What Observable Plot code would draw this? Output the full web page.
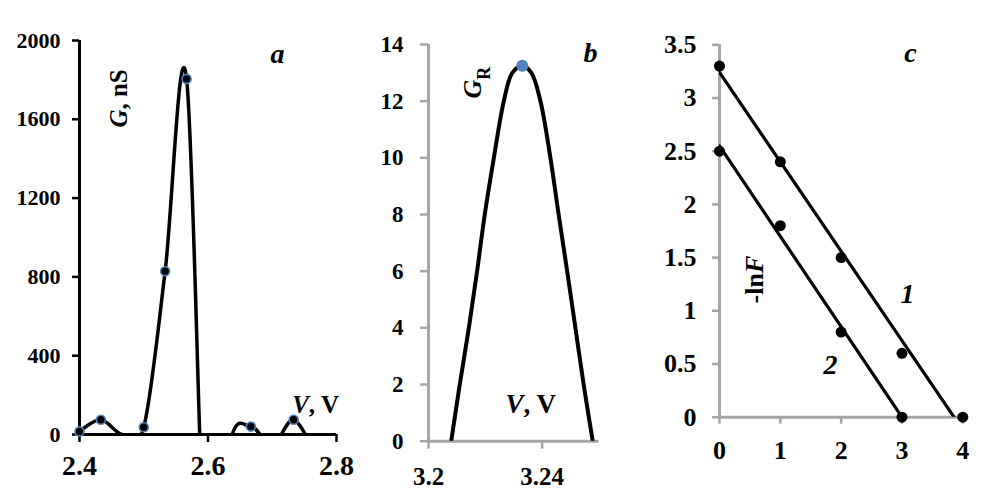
<!DOCTYPE html>
<html><head><meta charset="utf-8">
<script src="https://cdn.jsdelivr.net/npm/d3@7"></script>
<script src="https://cdn.jsdelivr.net/npm/@observablehq/plot@0.6"></script>
<style>
html,body{margin:0;padding:0;background:#fff;}
#wrap{position:relative;width:1000px;height:501px;overflow:hidden;background:#fff;}
#wrap svg{position:absolute;left:0;top:0;}
</style></head><body><div id="wrap"></div>
<script>
// ---- Panel a: G (nS) vs V (V); unmarked values lie below the axis and are clipped
const aV = [2.4, 2.4333, 2.4667, 2.5, 2.5333, 2.5667, 2.6, 2.6333, 2.6667, 2.7, 2.7333, 2.7667];
const aG = [15, 75, 0, 37, 829, 1805, -1000, -55, 40, -55, 75, -100];
const aXTicks = [2.4, 2.6, 2.8];
const aYTicks = [0, 400, 800, 1200, 1600, 2000];
// ---- Panel b: G_R vs V
const bV = [3.2080, 3.2110, 3.2142, 3.2171, 3.2198, 3.2230, 3.2265, 3.2295, 3.2330, 3.2362, 3.2394, 3.2429, 3.2458, 3.2488, 3.2517, 3.2546, 3.2578];
const bG = [0, 2, 4, 6, 8, 10, 12, 13, 13.25, 13, 12, 10, 8, 6, 4, 2, 0];
const bXTicks = [3.2, 3.24];
const bYTicks = [0, 2, 4, 6, 8, 10, 12, 14];
// ---- Panel c: -lnF, two series with linear fits
const c1X = [0, 1, 2, 3, 4];
const c1Y = [3.3, 2.4, 1.5, 0.6, 0];
const c2X = [0, 1, 2, 3];
const c2Y = [2.5, 1.8, 0.8, 0];
const cXTicks = [0, 1, 2, 3, 4];
const cYTicks = [0, 0.5, 1, 1.5, 2, 2.5, 3, 3.5];

const FONT = "'Liberation Serif', 'Times New Roman', serif";
const GRAY = "#a6a6a6";
const BLUE = "#4f81bd";
const base = {
  width: 1000, height: 501,
  style: {fontFamily: FONT, fontWeight: "bold", background: "transparent", color: "black", overflow: "visible"}
};
const wrap = document.getElementById("wrap");
const plain = d => String(d);

function rich(svg, txt, html) {
  svg.querySelectorAll("text").forEach(t => {
    if (t.textContent === txt) t.innerHTML = html;
  });
}

// Panel a
const idxA = d3.range(aV.length);
const plotA = Plot.plot({
  ...base,
  marginLeft: 79, marginRight: 664, marginTop: 40, marginBottom: 67,
  x: {domain: [2.4, 2.8]},
  y: {domain: [0, 2000]},
  marks: [
    Plot.axisX(aXTicks, {tickSize: 8, tickPadding: 13, strokeWidth: 2.5, fontSize: 28, tickFormat: d => d.toFixed(1), label: null}),
    Plot.axisY(aYTicks, {tickSize: 7, tickPadding: 12, strokeWidth: 2.5, fontSize: 22, tickFormat: plain, label: null}),
    Plot.ruleX([2.4], {strokeWidth: 3}),
    Plot.ruleY([0], {strokeWidth: 3}),
    Plot.line(idxA, {x: i => aV[i], y: i => aG[i], curve: "cardinal", tension: 0, clip: true, strokeWidth: 3.5, stroke: "black"}),
    Plot.dot(idxA.filter(i => aG[i] > 0), {x: i => aV[i], y: i => aG[i], r: 4.5, fill: "black", stroke: BLUE, strokeWidth: 1.6}),
    Plot.text(["a"], {x: () => 2.708, y: () => 1888, fontSize: 28, fontStyle: "italic", lineAnchor: "bottom"}),
    Plot.text(["G, nS"], {x: () => 2.462, y: () => 1706, rotate: -90, fontSize: 25}),
    Plot.text(["V, V"], {x: () => 2.731, y: () => 107, textAnchor: "start", lineAnchor: "bottom", fontSize: 25})
  ]
});
rich(plotA, "G, nS", '<tspan font-style="italic">G</tspan>, nS');
rich(plotA, "V, V", '<tspan font-style="italic">V</tspan>, V');
wrap.appendChild(plotA);

// Panel b
const idxB = d3.range(bV.length);
const peakB = d3.maxIndex(bG);
const plotB = Plot.plot({
  ...base,
  marginLeft: 428, marginRight: 401.5, marginTop: 44, marginBottom: 60.3,
  x: {domain: [3.2, 3.26]},
  y: {domain: [0, 14]},
  marks: [
    Plot.axisX(bXTicks, {tickSize: 8, tickPadding: 18, stroke: GRAY, fill: "black", strokeWidth: 2.5, fontSize: 25, tickFormat: plain, label: null}),
    Plot.axisY(bYTicks, {tickSize: 8, tickPadding: 17, stroke: GRAY, fill: "black", strokeWidth: 2.5, fontSize: 23, tickFormat: plain, label: null}),
    Plot.ruleX([3.2], {stroke: GRAY, strokeWidth: 3}),
    Plot.ruleY([0], {stroke: GRAY, strokeWidth: 3}),
    Plot.line(idxB, {x: i => bV[i], y: i => bG[i], curve: "catmull-rom", clip: true, strokeWidth: 4, stroke: "black"}),
    Plot.dot([peakB], {x: i => bV[i], y: i => bG[i], r: 6, fill: BLUE, stroke: "none"}),
    Plot.text(["b"], {x: () => 3.257, y: () => 13.40, fontSize: 28, fontStyle: "italic", lineAnchor: "bottom"}),
    Plot.text(["GR"], {x: () => 3.2186, y: () => 12.09, rotate: -90, textAnchor: "start", lineAnchor: "bottom", fontSize: 26}),
    Plot.text(["V, V"], {x: () => 3.2271, y: () => 0.98, textAnchor: "start", lineAnchor: "bottom", fontSize: 27})
  ]
});
rich(plotB, "GR", '<tspan font-style="italic">G</tspan><tspan font-size="18" dy="9">R</tspan>');
rich(plotB, "V, V", '<tspan font-style="italic">V</tspan>, V');
wrap.appendChild(plotB);

// Panel c
const pts1 = d3.range(c1X.length).map(i => ({x: c1X[i], y: c1Y[i]}));
const pts2 = d3.range(c2X.length).map(i => ({x: c2X[i], y: c2Y[i]}));
const plotC = Plot.plot({
  ...base,
  marginLeft: 719, marginRight: 37.7, marginTop: 44.3, marginBottom: 84.3,
  x: {domain: [0, 4]},
  y: {domain: [0, 3.5]},
  marks: [
    Plot.axisX(cXTicks, {tickSize: 7, tickPadding: 16, stroke: GRAY, fill: "black", strokeWidth: 2.5, fontSize: 26, tickFormat: plain, label: null}),
    Plot.axisY(cYTicks, {tickSize: 7, tickPadding: 16, stroke: GRAY, fill: "black", strokeWidth: 2.5, fontSize: 26, tickFormat: plain, label: null}),
    Plot.ruleX([0], {stroke: GRAY, strokeWidth: 3}),
    Plot.ruleY([0], {stroke: GRAY, strokeWidth: 3}),
    Plot.linearRegressionY(pts1, {x: "x", y: "y", ci: 0, stroke: "black", strokeWidth: 3.2, clip: true}),
    Plot.linearRegressionY(pts2, {x: "x", y: "y", ci: 0, stroke: "black", strokeWidth: 3.2, clip: true}),
    Plot.dot(pts1, {x: "x", y: "y", r: 5.5, fill: "black"}),
    Plot.dot(pts2, {x: "x", y: "y", r: 5.5, fill: "black"}),
    Plot.text(["c"], {x: () => 3.14, y: () => 3.343, fontSize: 28, fontStyle: "italic", lineAnchor: "bottom"}),
    Plot.text(["-lnF"], {x: () => 0.723, y: () => 1.069, rotate: -90, textAnchor: "start", lineAnchor: "bottom", fontSize: 26}),
    Plot.text(["1"], {x: () => 3.09, y: () => 1.069, fontSize: 28, fontStyle: "italic", lineAnchor: "bottom"}),
    Plot.text(["2"], {x: () => 1.825, y: () => 0.41, fontSize: 28, fontStyle: "italic", lineAnchor: "bottom"})
  ]
});
rich(plotC, "-lnF", '-ln<tspan font-style="italic">F</tspan>');
wrap.appendChild(plotC);
</script></body></html>
